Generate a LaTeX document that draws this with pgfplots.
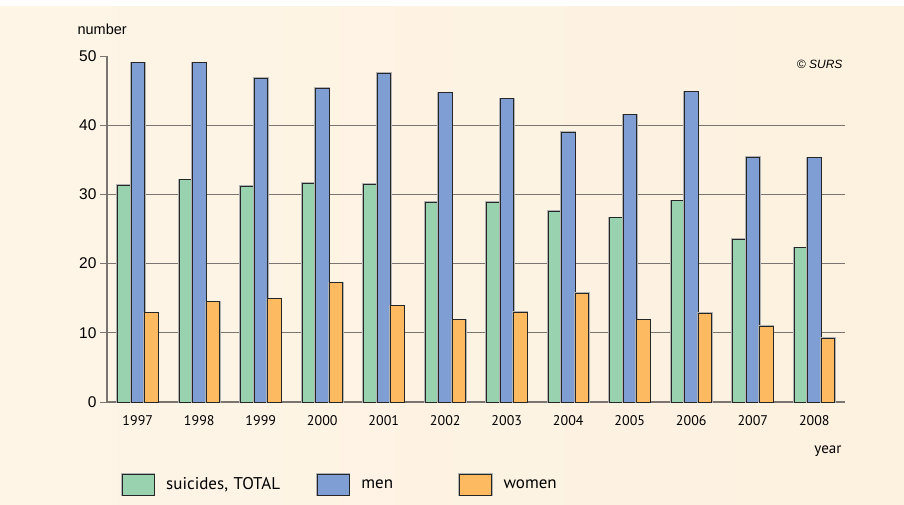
\documentclass[border=0pt]{standalone}
\usepackage{pgfplots}
\pgfplotsset{compat=1.18}
\usepackage{fontspec}
\setmainfont{Liberation Sans}
\newfontfamily\ptsans{PT Sans}
\definecolor{cream}{HTML}{FEF5E7}
\definecolor{creamr}{HTML}{FDF1DF}
\definecolor{cgreen}{HTML}{99D2AE}
\definecolor{cblue}{HTML}{7F9ED3}
\definecolor{corange}{HTML}{FDBA60}
\definecolor{gridc}{HTML}{7A7570}
\definecolor{barline}{HTML}{262626}
\begin{document}
\begin{tikzpicture}[x=1pt,y=1pt]
\fill[white] (0,0) rectangle (904,504);
\shade[left color=cream, right color=creamr] (0,0) rectangle (904,497);
\begin{axis}[
  at={(107pt,102pt)}, anchor=south west,
  scale only axis, width=738pt, height=346pt,
  clip=false,
  xmin=-0.5, xmax=11.5, ymin=0, ymax=50,
  axis lines=left,
  axis line style={-, draw=gridc, line width=1.1pt},
  xtick={0,...,11},
  xticklabels={1997,1998,1999,2000,2001,2002,2003,2004,2005,2006,2007,2008},
  ytick={0,10,...,50},
  tick align=outside,
  x tick style={draw=none},
  y tick style={draw=gridc, line width=1pt},
  major tick length=7pt,
  extra y ticks={10,20,30,40},
  extra y tick labels={},
  extra y tick style={grid=major, major tick length=0pt},
  grid style={draw=gridc, line width=1pt},
  /pgf/number format/assume math mode=true,
  yticklabel style={font=\fontsize{15.5}{16}\selectfont, xshift=0pt},
  xticklabel style={font=\ptsans\fontsize{14}{14}\selectfont, yshift=-3pt},
  ybar=0pt, bar width=13.5pt,
  every axis plot post/.append style={
    draw=barline, line width=1pt,
    preaction={draw=black!30, line width=2.2pt},
    legend image code/.code={\draw[##1, draw=barline, line width=1pt] (0pt,-10.5pt) rectangle (32pt,10.5pt);}
  },
  legend style={at={(0.019,-0.239)}, anchor=west, draw=none, fill=none,
    inner sep=0pt, outer sep=0pt,
    font=\ptsans\fontsize{17}{17}\selectfont,
    nodes={inner sep=0pt},
    /tikz/every odd column/.append style={column sep=11pt}},
  legend columns=3,
  legend cell align=left,
]
\addplot[fill=cgreen] coordinates {(0,31.3) (1,32.1) (2,31.2) (3,31.6) (4,31.5) (5,28.9) (6,28.9) (7,27.6) (8,26.6) (9,29.1) (10,23.5) (11,22.3)};
\addlegendentry[text width=150pt]{suicides, TOTAL}
\addplot[fill=cblue] coordinates {(0,49.0) (1,49.0) (2,46.8) (3,45.3) (4,47.5) (5,44.7) (6,43.8) (7,39.0) (8,41.5) (9,44.8) (10,35.4) (11,35.3)};
\addlegendentry[text width=97pt]{men}
\addplot[fill=corange] coordinates {(0,12.9) (1,14.5) (2,14.9) (3,17.2) (4,13.9) (5,11.9) (6,13.0) (7,15.7) (8,11.9) (9,12.8) (10,10.9) (11,9.2)};
\addlegendentry{women}
\node[anchor=west, font=\fontsize{14.5}{15}\selectfont] at (rel axis cs:-0.0447,1.077) {number};
\node[anchor=east, font=\itshape\fontsize{12}{12}\selectfont] at (rel axis cs:1.0014,0.977) {\textcopyright{} SURS};
\node[anchor=east, font=\ptsans\fontsize{15}{15}\selectfont] at (rel axis cs:1,-0.143) {year};
\end{axis}
\end{tikzpicture}
\end{document}
